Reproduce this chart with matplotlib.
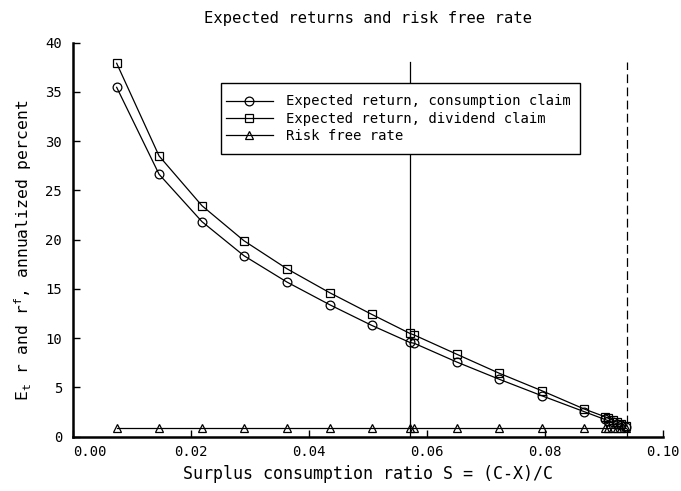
import numpy as np
import matplotlib
matplotlib.use("Agg")
import matplotlib.pyplot as plt
from matplotlib.legend_handler import HandlerLine2D

plt.rcParams['font.family'] = ['DejaVu Sans Mono', 'DejaVu Sans']
plt.rcParams['mathtext.default'] = 'regular'
plt.rcParams['mathtext.fontset'] = 'custom'
plt.rcParams['mathtext.rm'] = 'DejaVu Sans Mono'
plt.rcParams['mathtext.it'] = 'DejaVu Sans Mono'

# Surplus consumption ratio grid
S = [0.00735, 0.01454, 0.02181, 0.02891, 0.03618, 0.04345, 0.05055,
     0.0570, 0.0578, 0.0650, 0.0722, 0.0794, 0.0866,
     0.0901, 0.0907, 0.0914, 0.0921, 0.0928, 0.0936]
# Expected return, consumption claim
ret_cons = [35.47, 26.64, 21.83, 18.38, 15.71, 13.40, 11.31,
            9.58, 9.48, 7.58, 5.83, 4.16, 2.54,
            1.75, 1.62, 1.47, 1.32, 1.17, 1.02]
# Expected return, dividend claim
ret_div = [37.91, 28.50, 23.45, 19.90, 17.06, 14.62, 12.43,
           10.50, 10.32, 8.37, 6.44, 4.67, 2.81,
           2.03, 1.86, 1.68, 1.50, 1.32, 1.12]
# Risk free rate
rf = [0.85] * len(S)

S_bar = 0.057
S_max = 0.0938
vline_top = 38.0

xticks = [0.00, 0.02, 0.04, 0.06, 0.08, 0.10]
xtick_labels = ["0.00", "0.02", "0.04", "0.06", "0.08", "0.10"]
yticks = [0, 5, 10, 15, 20, 25, 30, 35, 40]
ytick_labels = ["0", "5", "10", "15", "20", "25", "30", "35", "40"]

labels = ["Expected return, consumption claim",
          "Expected return, dividend claim",
          "Risk free rate"]


class LeftMarker(HandlerLine2D):
    def get_xdata(self, legend, xdescent, ydescent, width, height, fontsize):
        xdata = np.array([-xdescent, -xdescent + width])
        return xdata, np.array([-xdescent + 0.37 * fontsize])


fig = plt.figure(figsize=(6.81, 4.91), dpi=100)
ax = fig.add_axes([73.3 / 681, 1 - 436.7 / 491, (663.3 - 73.3) / 681, (436.7 - 42.7) / 491])

lw = 0.9
l1, = ax.plot(S, ret_cons, color='black', lw=lw, marker='o', ms=6.3,
              mfc='none', mec='black', mew=0.9)
l2, = ax.plot(S, ret_div, color='black', lw=lw, marker='s', ms=5.6,
              mfc='none', mec='black', mew=0.9)
l3, = ax.plot(S, rf, color='black', lw=lw, marker='^', ms=6.3,
              mfc='none', mec='black', mew=0.9)

ax.plot([S_bar, S_bar], [0, vline_top], color='black', lw=0.9)
ax.plot([S_max, S_max], [0, vline_top], color='black', lw=0.9, ls=(0, (7, 3.5)))

ax.set_xlim(0, 0.10)
ax.set_ylim(0, 40)
ax.set_xticks(xticks)
ax.set_xticklabels(xtick_labels)
ax.set_yticks(yticks)
ax.set_yticklabels(ytick_labels)
ax.get_xticklabels()[0].set_ha('left')

for side in ['top', 'right']:
    ax.spines[side].set_visible(False)
for side in ['left', 'bottom']:
    ax.spines[side].set_linewidth(1.8)

ax.tick_params(axis='both', direction='in', length=5, width=1.0,
               labelsize=10, colors='black')
ax.tick_params(axis='x', pad=6)
ax.tick_params(axis='y', pad=8)

ax.set_xlabel("Surplus consumption ratio S = (C-X)/C", fontsize=12, labelpad=4)
ax.set_ylabel("E$_t$ r and r$^f$, annualized percent", fontsize=11.8)
ax.yaxis.set_label_coords(-0.066, 0.474)
ax.set_title("Expected returns and risk free rate", fontsize=11.2, pad=14)

handler = dict(numpoints=1, xpad=-0.45)
leg = ax.legend([l1, l2, l3], labels, loc='upper left',
                bbox_to_anchor=(221 / 681, 1 - 161.7 / 491, 359 / 681, 78.4 / 491),
                bbox_transform=fig.transFigure, mode='expand',
                fontsize=10, frameon=True, fancybox=False, edgecolor='black',
                framealpha=1, handlelength=2.95, handletextpad=0.94,
                labelspacing=0.23, borderpad=0.8, borderaxespad=0,
                handler_map={l1: LeftMarker(**handler), l2: LeftMarker(**handler),
                             l3: LeftMarker(**handler)})
leg.get_frame().set_linewidth(1.0)

fig.savefig("out.png", dpi=100)
